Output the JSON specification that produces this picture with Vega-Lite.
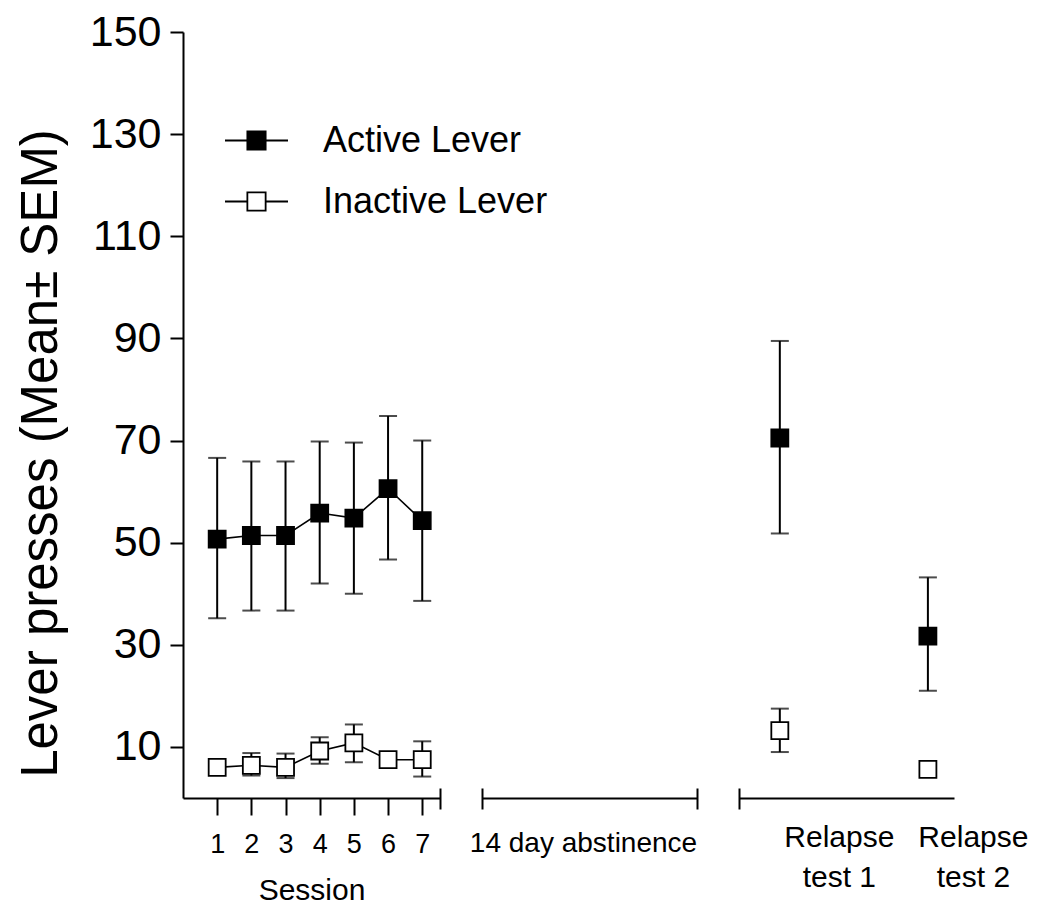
{
  "$schema": "https://vega.github.io/schema/vega-lite/v6.json",
  "padding": {"left": 15, "top": 11, "right": 5, "bottom": 5},
  "background": "white",
  "datasets": {
    "sessions": [
      {"session": 1, "lever": "Active Lever", "mean": 50.7, "lo": 35.2, "hi": 66.6},
      {"session": 2, "lever": "Active Lever", "mean": 51.4, "lo": 36.7, "hi": 65.9},
      {"session": 3, "lever": "Active Lever", "mean": 51.4, "lo": 36.7, "hi": 65.9},
      {"session": 4, "lever": "Active Lever", "mean": 55.8, "lo": 42.0, "hi": 69.8},
      {"session": 5, "lever": "Active Lever", "mean": 54.8, "lo": 40.0, "hi": 69.6},
      {"session": 6, "lever": "Active Lever", "mean": 60.6, "lo": 46.7, "hi": 74.8},
      {"session": 7, "lever": "Active Lever", "mean": 54.3, "lo": 38.6, "hi": 70.0},
      {"session": 1, "lever": "Inactive Lever", "mean": 6.0, "lo": null, "hi": null},
      {"session": 2, "lever": "Inactive Lever", "mean": 6.4, "lo": 4.4, "hi": 8.8},
      {"session": 3, "lever": "Inactive Lever", "mean": 6.0, "lo": 3.9, "hi": 8.7},
      {"session": 4, "lever": "Inactive Lever", "mean": 9.2, "lo": 6.7, "hi": 11.9},
      {"session": 5, "lever": "Inactive Lever", "mean": 10.8, "lo": 7.0, "hi": 14.4},
      {"session": 6, "lever": "Inactive Lever", "mean": 7.5, "lo": null, "hi": null},
      {"session": 7, "lever": "Inactive Lever", "mean": 7.5, "lo": 4.2, "hi": 11.1}
    ],
    "relapse": [
      {"test": "Relapse test 1", "lever": "Active Lever", "mean": 70.5, "lo": 51.8, "hi": 89.5},
      {"test": "Relapse test 1", "lever": "Inactive Lever", "mean": 13.2, "lo": 9.0, "hi": 17.5},
      {"test": "Relapse test 2", "lever": "Active Lever", "mean": 31.7, "lo": 21.0, "hi": 43.2},
      {"test": "Relapse test 2", "lever": "Inactive Lever", "mean": 5.6, "lo": null, "hi": null}
    ]
  },
  "config": {
    "font": "Liberation Sans",
    "view": {"stroke": null},
    "axis": {
      "grid": false,
      "domainColor": "black",
      "domainWidth": 2,
      "tickColor": "black",
      "tickWidth": 2,
      "labelColor": "black",
      "titleColor": "black",
      "titleFontWeight": "normal",
      "labelFont": "Liberation Sans",
      "titleFont": "Liberation Sans"
    },
    "legend": {"labelFont": "Liberation Sans"}
  },
  "bounds": "flush",
  "spacing": 42,
  "resolve": {"scale": {"fill": "independent"}, "legend": {"fill": "independent"}},
  "hconcat": [
    {
      "width": 257,
      "height": 766,
      "resolve": {"scale": {"x": "independent"}, "axis": {"x": "independent"}},
      "layer": [
        {
          "data": {"name": "sessions"},
          "layer": [
            {
              "transform": [{"filter": "datum.lo != null"}],
              "mark": {"type": "errorbar", "color": "black", "thickness": 2, "ticks": {"size": 18, "thickness": 2, "color": "black"}, "rule": {"strokeWidth": 2, "color": "black"}},
              "encoding": {
                "x": {
                  "field": "session",
                  "type": "quantitative",
                  "scale": {"domain": [0, 7.52], "nice": false},
                  "axis": {
                    "orient": "bottom",
                    "values": [1, 2, 3, 4, 5, 6, 7],
                    "format": "d",
                    "tickSize": 17,
                    "labelFontSize": 27,
                    "labelPadding": 16,
                    "labelAngle": 0,
                    "labelFlush": false,
                    "title": "Session",
                    "titleFontSize": 30,
                    "titlePadding": 18
                  }
                },
                "y": {
                  "field": "lo",
                  "type": "quantitative",
                  "scale": {"domain": [0, 150], "nice": false},
                  "axis": {
                    "values": [10, 30, 50, 70, 90, 110, 130, 150],
                    "tickSize": 13,
                    "labelFontSize": 43,
                    "labelPadding": 9,
                    "title": "Lever presses (Mean± SEM)",
                    "titleFontSize": 51,
                    "titlePadding": 22,
                    "titleY": 421
                  }
                },
                "y2": {"field": "hi"}
              }
            },
            {
              "mark": {"type": "line", "color": "black", "strokeWidth": 1.6},
              "encoding": {
                "x": {"field": "session", "type": "quantitative"},
                "y": {"field": "mean", "type": "quantitative"},
                "detail": {"field": "lever"}
              }
            },
            {
              "mark": {"type": "point", "shape": "square", "filled": true, "size": 289, "stroke": "black", "strokeWidth": 1.8, "opacity": 1},
              "encoding": {
                "x": {"field": "session", "type": "quantitative"},
                "y": {"field": "mean", "type": "quantitative"},
                "fill": {
                  "field": "lever",
                  "type": "nominal",
                  "scale": {"domain": ["Active Lever", "Inactive Lever"], "range": ["black", "white"]},
                  "legend": {
                    "title": null,
                    "orient": "none",
                    "legendX": 41,
                    "legendY": 76,
                    "padding": 0,
                    "symbolType": "M-1,0H-0.29M0.29,0H1M-0.29,-0.29H0.29V0.29H-0.29Z",
                    "symbolSize": 3969,
                    "symbolStrokeWidth": 1.8,
                    "symbolStrokeColor": "black",
                    "symbolOpacity": 1,
                    "labelFontSize": 36,
                    "labelLimit": 0,
                    "labelOffset": 34,
                    "labelColor": "black",
                    "rowPadding": 10
                  }
                }
              }
            }
          ]
        },
        {
          "data": {"values": []},
          "mark": "point",
          "encoding": {
            "x": {
              "datum": 1,
              "type": "quantitative",
              "scale": {"domain": [0, 1], "nice": false},
              "axis": {"orient": "bottom", "offset": -10, "domain": false, "labels": false, "ticks": true, "tickSize": 21, "values": [1], "title": null}
            }
          }
        }
      ]
    },
    {
      "width": 215,
      "height": 766,
      "data": {"values": []},
      "resolve": {"axis": {"x": "independent"}},
      "layer": [
        {
          "mark": "point",
          "encoding": {
            "x": {
              "datum": 0,
              "type": "quantitative",
              "scale": {"domain": [0, 1], "nice": false},
              "axis": {"orient": "bottom", "domain": true, "ticks": false, "tickSize": 0, "labels": false, "values": [], "title": "14 day abstinence", "titleFontSize": 28, "titlePadding": 31, "titleX": 101}
            }
          }
        },
        {
          "mark": "point",
          "encoding": {
            "x": {
              "datum": 0,
              "type": "quantitative",
              "scale": {"domain": [0, 1], "nice": false},
              "axis": {"orient": "bottom", "offset": -10, "domain": false, "labels": false, "ticks": true, "tickSize": 21, "values": [0, 1], "title": null}
            }
          }
        }
      ]
    },
    {
      "width": 215,
      "height": 766,
      "resolve": {"scale": {"x": "independent"}, "axis": {"x": "independent"}},
      "layer": [
        {
          "data": {"name": "relapse"},
          "layer": [
            {
              "transform": [{"filter": "datum.lo != null"}],
              "mark": {"type": "errorbar", "color": "black", "thickness": 2, "ticks": {"size": 18, "thickness": 2, "color": "black"}, "rule": {"strokeWidth": 2, "color": "black"}},
              "encoding": {
                "x": {
                  "field": "test",
                  "type": "nominal",
                  "scale": {"type": "point", "domain": ["Relapse test 1", "Relapse test 2"], "padding": 0.226, "align": 0.61},
                  "axis": {
                    "orient": "bottom",
                    "domain": true,
                    "ticks": false,
                    "tickSize": 0,
                    "labelFontSize": 30,
                    "labelPadding": 24,
                    "labelLineHeight": 40,
                    "labelAngle": 0,
                    "labelAlign": "center",
                    "labelOverlap": false,
                    "labelBound": false,
                    "labelFlush": false,
                    "labelLimit": 0,
                    "labelExpr": "datum.value == 'Relapse test 1' ? ['Relapse', 'test 1'] : ['Relapse', 'test 2']",
                    "labelOffset": {"condition": {"test": "datum.value == 'Relapse test 1'", "value": 59}, "value": 45},
                    "title": null
                  }
                },
                "y": {"field": "lo", "type": "quantitative", "scale": {"domain": [0, 150], "nice": false}, "axis": null},
                "y2": {"field": "hi"}
              }
            },
            {
              "mark": {"type": "point", "shape": "square", "filled": true, "size": 289, "stroke": "black", "strokeWidth": 1.8, "opacity": 1},
              "encoding": {
                "x": {"field": "test", "type": "nominal"},
                "y": {"field": "mean", "type": "quantitative"},
                "fill": {
                  "field": "lever",
                  "type": "nominal",
                  "scale": {"domain": ["Active Lever", "Inactive Lever"], "range": ["black", "white"]},
                  "legend": null
                }
              }
            }
          ]
        },
        {
          "data": {"values": []},
          "mark": "point",
          "encoding": {
            "x": {
              "datum": 0,
              "type": "quantitative",
              "scale": {"domain": [0, 1], "nice": false},
              "axis": {"orient": "bottom", "offset": -10, "domain": false, "labels": false, "ticks": true, "tickSize": 21, "values": [0], "title": null}
            }
          }
        }
      ]
    }
  ]
}
